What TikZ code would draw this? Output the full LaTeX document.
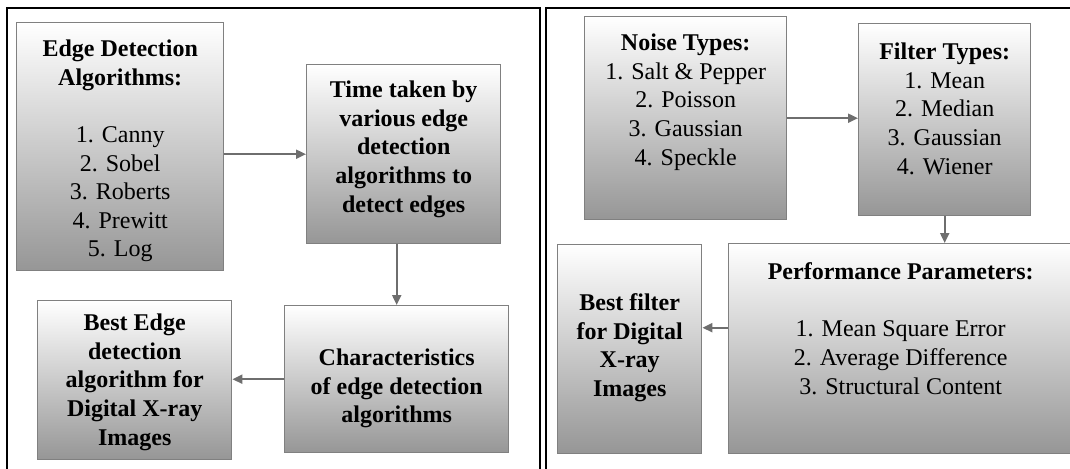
\documentclass[tikz,border=0pt]{standalone}
\usepackage{fontspec}
\setmainfont{Liberation Serif}
\usepackage{xcolor}
\usetikzlibrary{positioning,arrows.meta,calc}

\definecolor{framegray}{RGB}{128,128,128}
\definecolor{shadegray}{RGB}{150,150,150}
\definecolor{arrowgray}{RGB}{110,110,110}

\newlength{\px}
\setlength{\px}{0.5pt}
% box body: width, height, first baseline (all in px), lines
\newcommand{\boxbody}[4]{\parbox[c][#2\px][t]{#1\px}{\centering\rule{0pt}{#3\px}#4}}

\tikzset{
  flowbox/.style={draw=framegray, line width=0.7pt, top color=white, bottom color=shadegray,
    inner sep=0pt, anchor=north west, font=\fontsize{12pt}{14.3pt}\selectfont},
  flowarrow/.style={draw=arrowgray, line width=1pt, -{Triangle[length=5pt,width=4.5pt]}},
  panel/.style={line width=1.4pt, line cap=rect}
}

\begin{document}
\begin{tikzpicture}[x=0.5pt, y=-0.5pt]
    \useasboundingbox (0,0) rectangle (1070,468);
    % the two frames
    \draw[panel] (7,480) -- (7,8) -- (540,8) -- (540,480);
    \draw[panel] (546,480) -- (546,8) -- (1080,8);

    % edge detection
    \node[flowbox] (algos) at (16,22) {\boxbody{207}{248}{34}{\bfseries Edge Detection\\Algorithms:\\[14.3pt]\mdseries
      1. Canny\\2. Sobel\\3. Roberts\\4. Prewitt\\5. Log}};
    \node[flowbox] (timing) at (306,64) {\boxbody{194}{179}{33}{\bfseries Time taken by\\various edge\\detection\\algorithms to\\detect edges}};
    \node[flowbox] (traits) at (284,305) {\boxbody{224}{147}{60}{\bfseries Characteristics\\of edge detection\\algorithms}};
    \node[flowbox] (bestedge) at (37,300) {\boxbody{194}{159}{30}{\bfseries Best Edge\\detection\\algorithm for\\Digital X-ray\\Images}};

    \draw[flowarrow] (algos.east |- timing.west) -- (timing.west);
    \draw[flowarrow] (timing.south -| traits.north) -- (traits.north);
    \draw[flowarrow] (traits.west) -- (traits.west -| bestedge.east);

    % filtering
    \node[flowbox] (noise) at (584,16) {\boxbody{202}{203}{34}{\textbf{Noise Types:}\\1. Salt \& Pepper\\2. Poisson\\3. Gaussian\\4. Speckle}};
    \node[flowbox] (filters) at (858,23) {\boxbody{172}{192}{36}{\textbf{Filter Types:}\\1. Mean\\2. Median\\3. Gaussian\\4. Wiener}};
    \node[flowbox] (params) at (728,243) {\boxbody{344}{210}{36}{\textbf{Performance Parameters:}\\[14.3pt]
      1. Mean Square Error\\2. Average Difference\\3. Structural Content}};
    \node[flowbox] (bestfilter) at (557,244) {\boxbody{144}{209}{66}{\bfseries Best filter\\for Digital\\X-ray\\Images}};

    \draw[flowarrow] (noise.east) -- (noise.east -| filters.west);
    \draw[flowarrow] (filters.south) -- (filters.south |- params.north);
    \coordinate (pleft) at ([yshift=10.5pt]params.west);
    \draw[flowarrow] (pleft) -- (pleft -| bestfilter.east);
\end{tikzpicture}
\end{document}
